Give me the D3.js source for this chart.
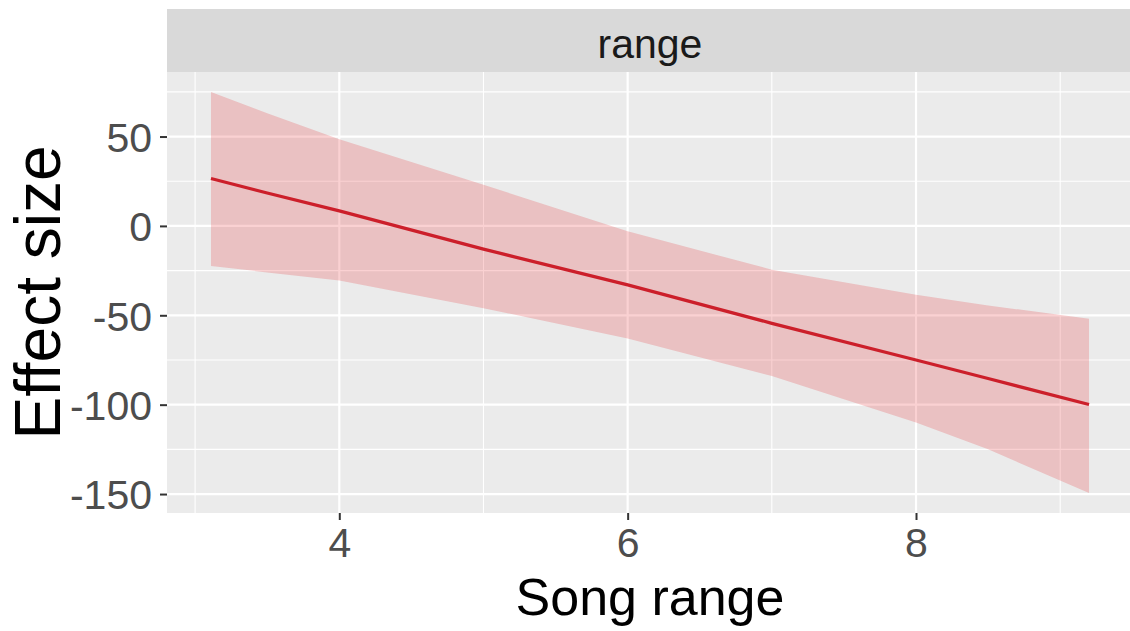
<!DOCTYPE html>
<html>
<head>
<meta charset="utf-8">
<script src="https://cdnjs.cloudflare.com/ajax/libs/d3/7.8.5/d3.min.js"></script>
<style>
  body { margin: 0; background: #fff; }
  svg { display: block; font-family: "Liberation Sans", Arial, sans-serif; }
</style>
</head>
<body>
<div id="chart"></div>
<script>
// values
var songRange = [3.11, 3.5, 4, 5, 6, 7, 8, 8.5, 9.2];
var effectFit = [26.5, 18.4, 8.4, -13, -33, -54.5, -75, -85.4, -99.9];
var effectUpper = [74.9, 63, 48.5, 23, -3, -24.5, -38.5, -44.5, -51.9];
var effectLower = [-22.4, -26, -30.5, -46, -63, -84, -110, -125, -149.4];
var xMajor = [4, 6, 8], xMinor = [3, 5, 7, 9];
var yMajor = [50, 0, -50, -100, -150], yMinor = [75, 25, -25, -75, -125];
var facetLabel = "range";

var width = 1130, height = 631;
var panel = {left: 167, right: 1133, top: 72, bottom: 513};
var strip = {top: 9, bottom: 72};

var x = d3.scaleLinear().domain([2.805, 9.505]).range([panel.left, panel.right]);
var y = d3.scaleLinear().domain([-160.6, 86.1]).range([panel.bottom, panel.top]);

var rows = songRange.map(function(d, i) {
  return {x: d, fit: effectFit[i], hi: effectUpper[i], lo: effectLower[i]};
});

var svg = d3.select("#chart").append("svg").attr("width", width).attr("height", height);

svg.append("clipPath").attr("id", "clip")
  .append("rect")
  .attr("x", panel.left).attr("y", panel.top)
  .attr("width", panel.right - panel.left).attr("height", panel.bottom - panel.top);

// panel background + grid
svg.append("rect")
  .attr("x", panel.left).attr("y", panel.top)
  .attr("width", panel.right - panel.left).attr("height", panel.bottom - panel.top)
  .style("fill", "#EBEBEB");

var grid = svg.append("g").attr("clip-path", "url(#clip)");
grid.selectAll(".yminor").data(yMinor).enter().append("line")
  .attr("x1", panel.left).attr("x2", panel.right)
  .attr("y1", function(d) { return y(d); }).attr("y2", function(d) { return y(d); })
  .style("stroke", "#fff").style("stroke-width", 1.1);
grid.selectAll(".xminor").data(xMinor).enter().append("line")
  .attr("y1", panel.top).attr("y2", panel.bottom)
  .attr("x1", function(d) { return x(d); }).attr("x2", function(d) { return x(d); })
  .style("stroke", "#fff").style("stroke-width", 1.1);
grid.selectAll(".ymajor").data(yMajor).enter().append("line")
  .attr("x1", panel.left).attr("x2", panel.right)
  .attr("y1", function(d) { return y(d); }).attr("y2", function(d) { return y(d); })
  .style("stroke", "#fff").style("stroke-width", 2.2);
grid.selectAll(".xmajor").data(xMajor).enter().append("line")
  .attr("y1", panel.top).attr("y2", panel.bottom)
  .attr("x1", function(d) { return x(d); }).attr("x2", function(d) { return x(d); })
  .style("stroke", "#fff").style("stroke-width", 2.2);

// ribbon and fitted line
var area = d3.area()
  .x(function(d) { return x(d.x); })
  .y0(function(d) { return y(d.lo); })
  .y1(function(d) { return y(d.hi); });
var line = d3.line()
  .x(function(d) { return x(d.x); })
  .y(function(d) { return y(d.fit); });

grid.append("path").datum(rows).attr("d", area)
  .style("fill", "#E41A1C").style("fill-opacity", 0.2);
grid.append("path").datum(rows).attr("d", line)
  .style("fill", "none").style("stroke", "#CC1F2A").style("stroke-width", 3.2);

// facet strip
svg.append("rect")
  .attr("x", panel.left).attr("y", strip.top)
  .attr("width", panel.right - panel.left).attr("height", strip.bottom - strip.top)
  .style("fill", "#D9D9D9");
svg.append("text")
  .attr("x", (panel.left + panel.right) / 2).attr("y", 58)
  .attr("text-anchor", "middle")
  .style("font-size", "41px").style("fill", "#1A1A1A")
  .text(facetLabel);

// axes (plain hyphen for negatives, like R)
var xAxis = d3.axisBottom(x).tickValues(xMajor).tickSize(7).tickPadding(8).tickFormat(function(d) { return String(d); });
var yAxis = d3.axisLeft(y).tickValues(yMajor).tickSize(7).tickPadding(8).tickFormat(function(d) { return String(d); });

var gx = svg.append("g").attr("transform", "translate(0," + panel.bottom + ")").call(xAxis);
var gy = svg.append("g").attr("transform", "translate(" + panel.left + ",0)").call(yAxis);
[gx, gy].forEach(function(g) {
  g.select(".domain").remove();
  g.selectAll(".tick line").style("stroke", "#333").style("stroke-width", 2);
  g.selectAll(".tick text").style("font-size", "41px").style("fill", "#4D4D4D")
    .style("font-family", "Liberation Sans, Arial, sans-serif");
});
gy.selectAll(".tick text").attr("dy", "0.36em");

svg.append("text")
  .attr("x", (panel.left + panel.right) / 2).attr("y", 615)
  .attr("text-anchor", "middle")
  .style("font-size", "52px").style("fill", "#000")
  .text("Song range");
svg.append("text")
  .attr("transform", "translate(60," + ((panel.top + panel.bottom) / 2) + ") rotate(-90)")
  .attr("text-anchor", "middle")
  .style("font-size", "64px").style("fill", "#000")
  .text("Effect size");
</script>
</body>
</html>
